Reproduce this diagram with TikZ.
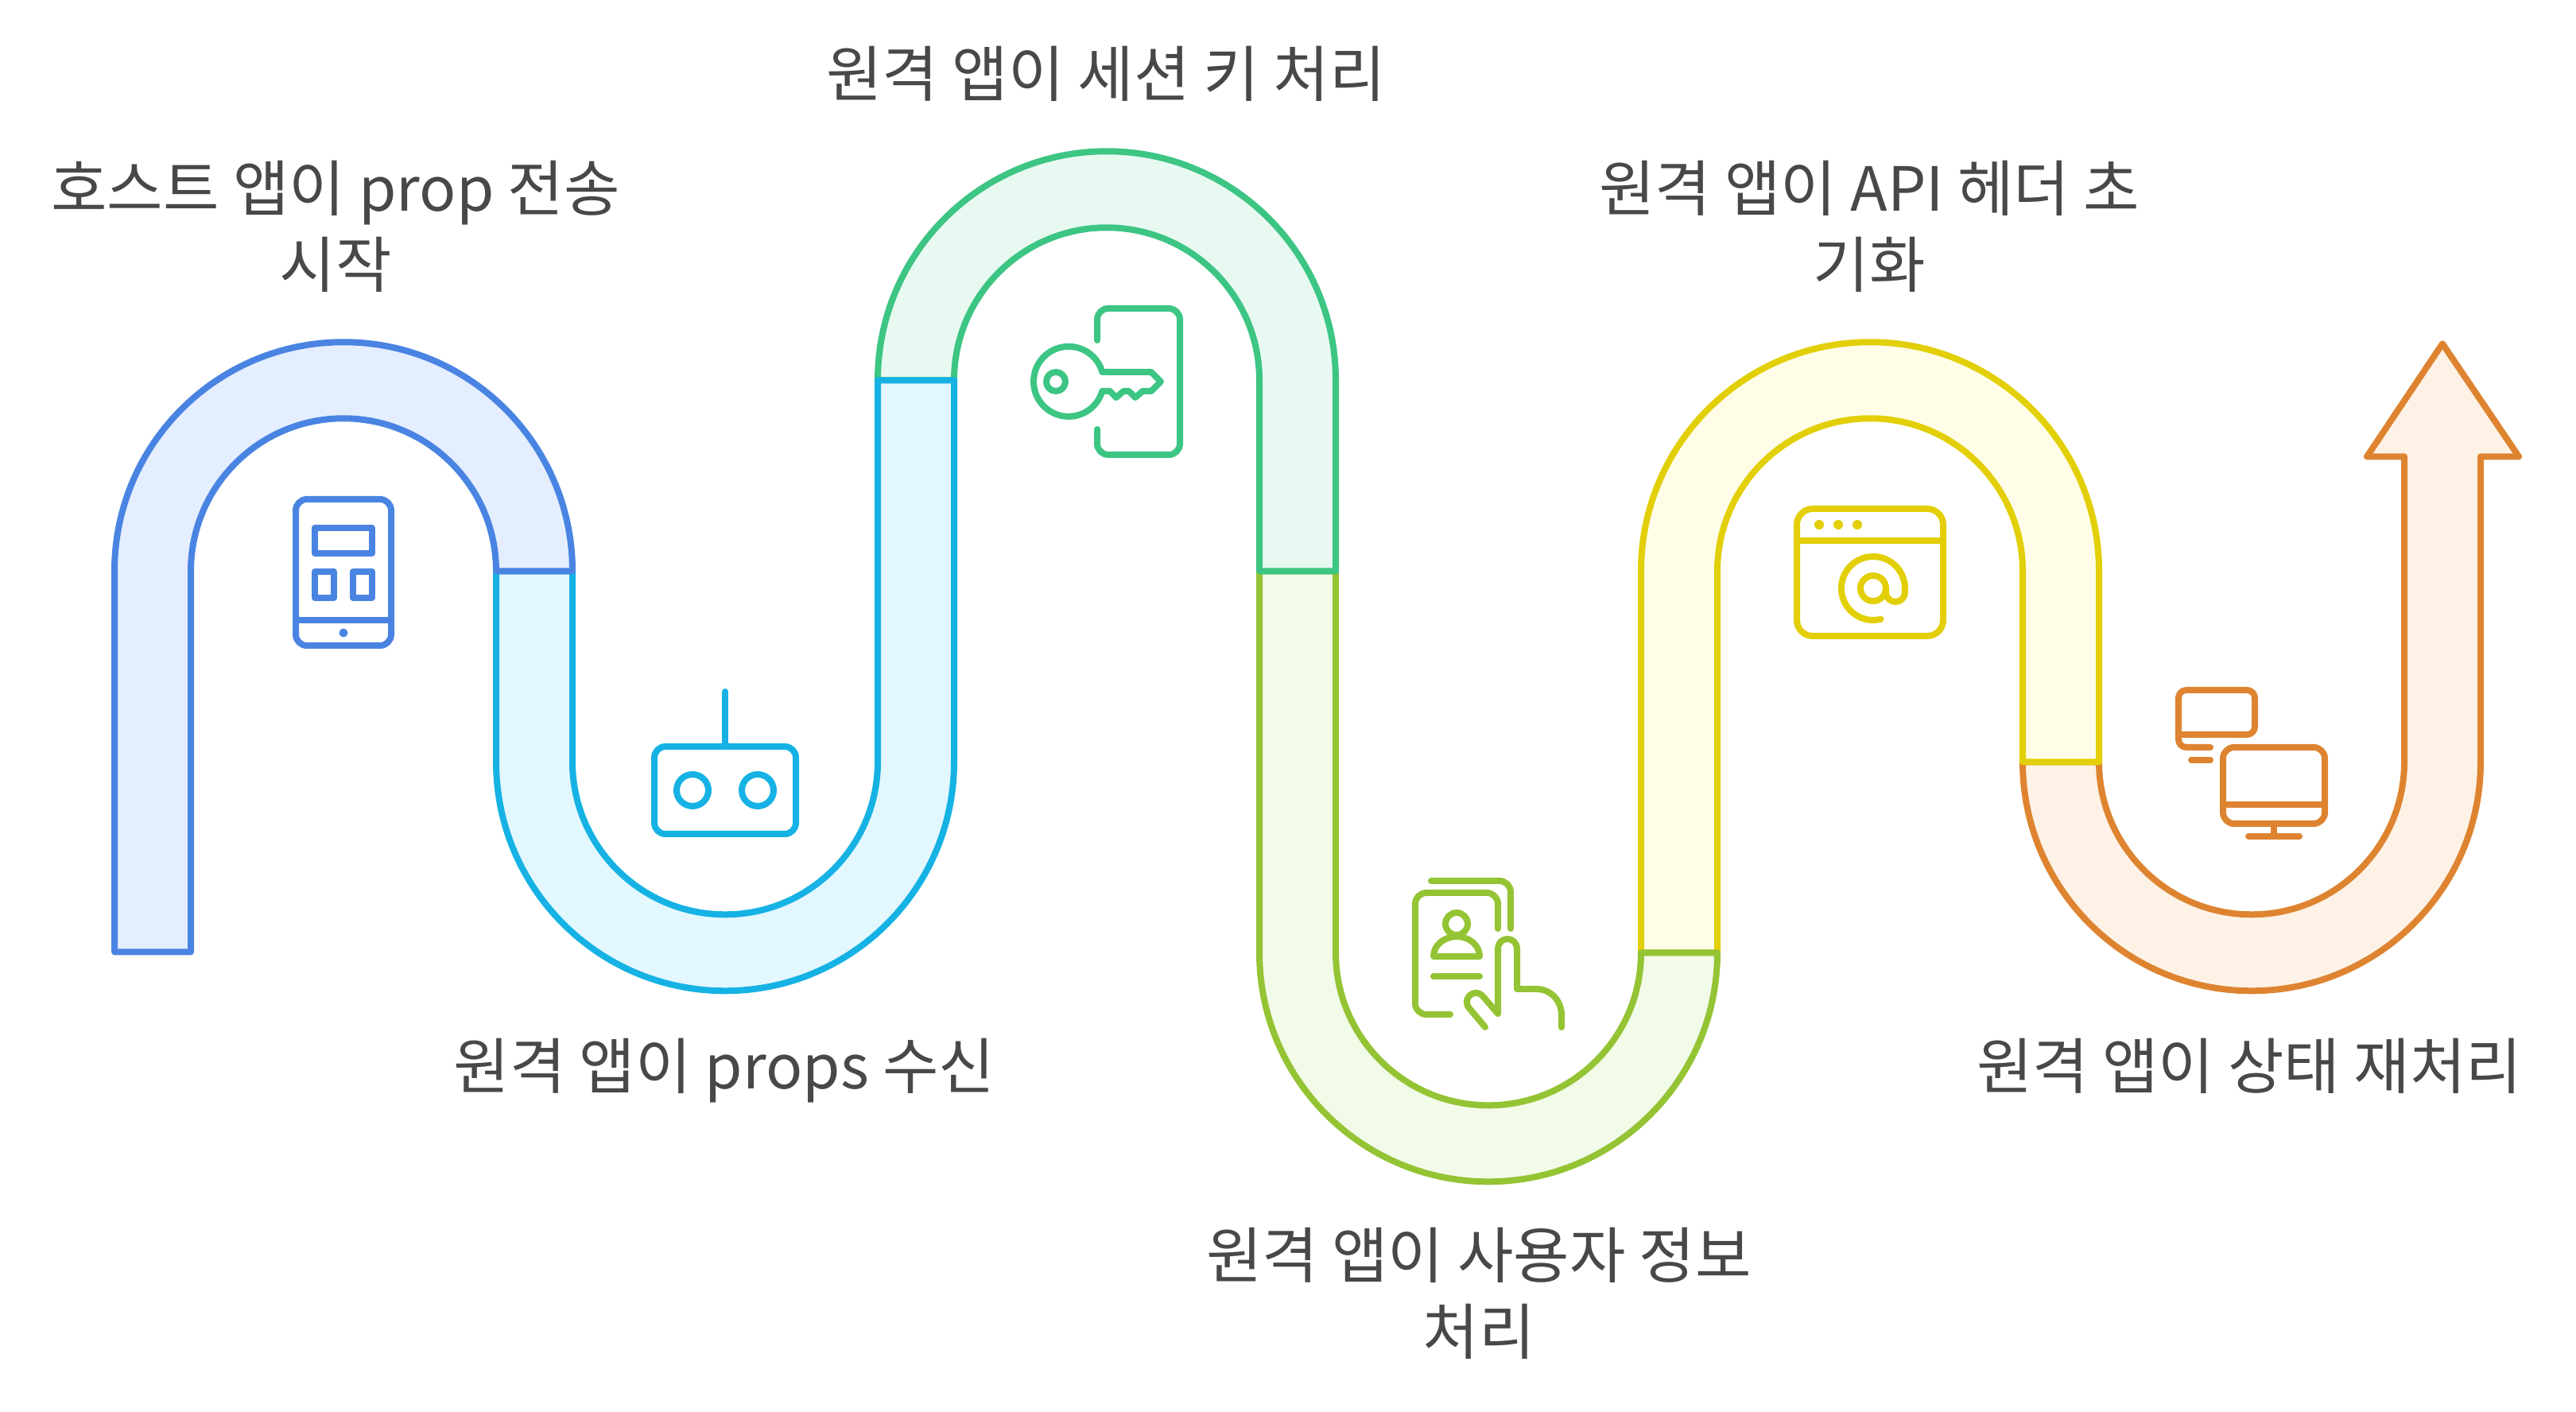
\documentclass[tikz,border=0pt]{standalone}
\usepackage{fontspec}
\setmainfont{Noto Sans CJK KR}
\definecolor{ink}{HTML}{484848}
\definecolor{blue}{HTML}{4A84E2}
\definecolor{sky}{HTML}{16B2E4}
\definecolor{mint}{HTML}{3DC583}
\definecolor{lime}{HTML}{94C434}
\definecolor{gold}{HTML}{E2CF07}
\definecolor{amber}{HTML}{DE8431}
\definecolor{bluefill}{HTML}{E4EEFE}
\definecolor{skyfill}{HTML}{E3F7FF}
\definecolor{mintfill}{HTML}{E8F9F1}
\definecolor{limefill}{HTML}{F2FAE8}
\definecolor{goldfill}{HTML}{FFFDE8}
\definecolor{amberfill}{HTML}{FEF2E6}
\tikzset{
  band/.style={draw=#1,fill=#1fill,line width=0.08cm,line join=round},
  glyph/.style={draw=#1,line width=0.08cm,line join=round,line cap=round,rounded corners=0.14cm},
  caption/.style={text=ink,align=center,font=\fontsize{21.8pt}{27.3pt}\selectfont}
}

\begin{document}
\begin{tikzpicture}
  \useasboundingbox (0,0) rectangle (32.4,17.76);

  \begin{scope}[yshift=-0.013cm]
    \draw[band=amber] (25.44,8.19) arc (180:360:2.88) -- (31.2,12.03) -- (31.68,12.03)
      -- (30.72,13.45) -- (29.77,12.03) -- (30.24,12.03) -- (30.24,8.19)
      arc (0:-180:1.92) -- cycle;
    \draw[band=gold] (20.64,5.79) -- (20.64,10.59) arc (180:0:2.88) -- (26.4,8.19)
      -- (25.44,8.19) -- (25.44,10.59) arc (0:180:1.92) -- (21.6,5.79) -- cycle;
    \draw[band=lime] (15.84,10.59) -- (15.84,5.79) arc (180:360:2.88)
      -- (20.64,5.79) arc (0:-180:1.92) -- (16.8,10.59) -- cycle;
    \draw[band=mint] (11.04,12.99) arc (180:0:2.88) -- (16.8,10.59)
      -- (15.84,10.59) -- (15.84,12.99) arc (0:180:1.92) -- cycle;
    \draw[band=sky] (6.24,10.59) -- (6.24,8.19) arc (180:360:2.88) -- (12,12.99)
      -- (11.04,12.99) -- (11.04,8.19) arc (0:-180:1.92) -- (7.2,10.59) -- cycle;
    \draw[band=blue] (1.44,5.8) -- (1.44,10.59) arc (180:0:2.88) -- (6.24,10.59)
      arc (0:180:1.92) -- (2.4,5.8) -- cycle;
  \end{scope}

  \begin{scope}[xshift=4.32cm,yshift=10.56cm]
    \draw[glyph=blue] (-0.6,-0.92) rectangle (0.6,0.92);
    \draw[glyph=blue,sharp corners] (-0.36,0.24) rectangle (0.36,0.56);
    \draw[glyph=blue,sharp corners] (-0.36,-0.32) rectangle (-0.12,0.01);
    \draw[glyph=blue,sharp corners] (0.12,-0.32) rectangle (0.36,0.01);
    \draw[glyph=blue] (-0.6,-0.6) -- (0.6,-0.6);
    \fill[blue] (0,-0.76) circle (0.055);
  \end{scope}

  \begin{scope}[xshift=9.12cm,yshift=7.82cm]
    \draw[glyph=sky] (-0.89,-0.55) rectangle (0.89,0.55);
    \draw[glyph=sky] (0,0.55) -- (0,1.24);
    \draw[glyph=sky] (-0.41,0) circle (0.2);
    \draw[glyph=sky] (0.41,0) circle (0.2);
  \end{scope}

  \begin{scope}[xshift=13.92cm,yshift=12.96cm]
    \draw[glyph=mint] (-0.12,0.52) -- (-0.12,0.92) -- (0.92,0.92) -- (0.92,-0.92)
      -- (-0.12,-0.92) -- (-0.12,-0.6);
    \draw[glyph=mint,sharp corners] (-0.057,0.12) -- (0.56,0.12) -- (0.68,0) -- (0.56,-0.12)
      -- (0.45,-0.12) -- (0.36,-0.2) -- (0.28,-0.12) -- (0.21,-0.12) -- (0.12,-0.2)
      -- (0.04,-0.12) -- (-0.057,-0.12) arc (-16:-344:0.44) -- cycle;
    \draw[glyph=mint] (-0.64,0) circle (0.12);
  \end{scope}

  \begin{scope}[xshift=18.72cm,yshift=5.76cm]
    \draw[glyph=lime] (-0.72,0.92) -- (0.28,0.92) -- (0.28,0.32);
    \draw[glyph=lime] (0.12,0.32) -- (0.12,0.77) -- (-0.92,0.77) -- (-0.92,-0.76) -- (-0.48,-0.76);
    \draw[glyph=lime] (-0.4,0.38) circle (0.14);
    \draw[glyph=lime,sharp corners] (-0.69,-0.03) arc [start angle=180,end angle=0,x radius=0.29,y radius=0.25] -- cycle;
    \draw[glyph=lime] (-0.69,-0.28) -- (-0.11,-0.28);
    \draw[glyph=lime,sharp corners] (-0.04,-0.92) -- (-0.25,-0.67) .. controls (-0.33,-0.55) and (-0.17,-0.42) .. (-0.07,-0.53)
      -- (0.12,-0.75) -- (0.12,0.07) arc (180:0:0.12) -- (0.36,-0.44) -- (0.6,-0.44)
      .. controls (0.8,-0.44) and (0.92,-0.6) .. (0.92,-0.77) -- (0.92,-0.92);
  \end{scope}

  \begin{scope}[xshift=23.52cm,yshift=10.56cm]
    \draw[glyph=gold,rounded corners=0.2cm] (-0.92,-0.8) rectangle (0.92,0.8);
    \draw[glyph=gold] (-0.92,0.4) -- (0.92,0.4);
    \foreach \dotx in {-0.64,-0.4,-0.16}
      \fill[gold] (\dotx,0.6) circle (0.06);
    \draw[glyph=gold,sharp corners] (0.136,-0.588) arc (-76:-360:0.4) -- (0.44,-0.25)
      arc (0:-180:0.12) -- (0.2,-0.2);
    \draw[glyph=gold] (0.04,-0.2) circle (0.16);
  \end{scope}

  \begin{scope}[xshift=28.32cm,yshift=8.16cm]
    \draw[glyph=amber,rounded corners=0.1cm] (-0.52,0.2) -- (-0.92,0.2) -- (-0.92,0.92)
      -- (0.04,0.92) -- (0.04,0.36) -- (-0.92,0.36);
    \draw[glyph=amber] (-0.76,0.04) -- (-0.52,0.04);
    \draw[glyph=amber] (-0.36,-0.76) rectangle (0.92,0.2);
    \draw[glyph=amber] (-0.36,-0.52) -- (0.92,-0.52);
    \draw[glyph=amber] (0.28,-0.76) -- (0.28,-0.92);
    \draw[glyph=amber] (-0.04,-0.92) -- (0.6,-0.92);
  \end{scope}

  \node[caption] (host) at (4.22,14.91) {호스트 앱이 prop 전송\\시작};
  \node[caption] (props) at (9.11,4.29) {원격 앱이 props 수신};
  \node[caption] (session) at (13.91,16.83) {원격 앱이 세션 키 처리};
  \node[caption] (user) at (18.6,1.49) {원격 앱이 사용자 정보\\처리};
  \node[caption] (header) at (23.51,14.91) {원격 앱이 API 헤더 초\\기화};
  \node[caption] (state) at (28.29,4.35) {원격 앱이 상태 재처리};
\end{tikzpicture}
\end{document}
